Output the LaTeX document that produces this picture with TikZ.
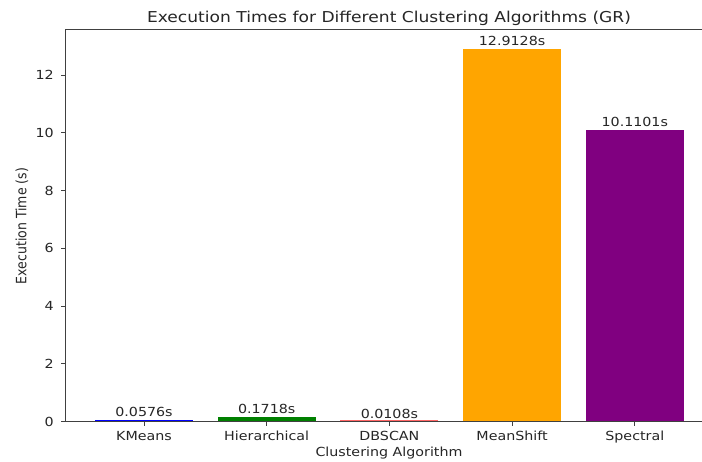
\documentclass[tikz,border=0pt]{standalone}
\usepackage{graphicx}
\usepackage{fontspec}
\setmainfont{DejaVu Sans}
\definecolor{spine}{HTML}{404040}
\definecolor{ink}{HTML}{262626}
\definecolor{kblue}{RGB}{0,0,255}
\definecolor{kgreen}{RGB}{0,128,0}
\definecolor{kred}{RGB}{255,0,0}
\definecolor{korange}{RGB}{255,165,0}
\definecolor{kpurple}{RGB}{128,0,128}
% text is drawn a little wider than tall
\newcommand\wide[1]{\scalebox{1.14}[1]{#1}}
\newcommand\ticksize{\fontsize{12.5}{15}\selectfont}
\tikzset{
  axisline/.style={draw=spine, line width=1pt},
  tickmark/.style={draw=spine, line width=0.9pt},
  ticklabel/.style={inner sep=0pt, text=ink, font=\ticksize},
  barlabel/.style={inner sep=0pt, anchor=base, text=ink, font=\ticksize},
  bar/.style={draw=none},
}
\begin{document}
\begin{tikzpicture}
\clip (0,0) rectangle (702pt,461pt);
\fill[white] (0,0) rectangle (702pt,461pt);

% title
\node[inner sep=0pt, anchor=base, text=ink, font=\fontsize{15}{18}\selectfont]
  (title) at (389pt,438.3pt) {\wide{Execution Times for Different Clustering Algorithms (GR)}};

% y axis label
\node[inner sep=0pt, rotate=90, text=ink, font=\ticksize]
  (ylabel) at (22pt,235pt) {\scalebox{1}[1.14]{Execution Time (s)}};

% x axis label
\node[inner sep=0pt, anchor=base, text=ink, font=\ticksize]
  (xlabel) at (389pt,5pt) {\wide{Clustering Algorithm}};

\begin{scope}[shift={(144pt,39.5pt)}, x=122.7pt, y=28.875pt]
  % bars
  \fill[bar, kblue]   (-0.4,0) rectangle (0.4,0.0576);
  \fill[bar, kgreen]  (0.6,0) rectangle (1.4,0.1718);
  \fill[bar, kred!60] (1.6,0) rectangle (2.4,0.035);
  \fill[bar, korange] (2.6,0) rectangle (3.4,12.9128);
  \fill[bar, kpurple] (3.6,0) rectangle (4.4,10.1101);

  % bar value labels
  \node[barlabel] (v0) at (0,0.0576+0.104) {\wide{0.0576s}};
  \node[barlabel] (v1) at (1,0.1718+0.104) {\wide{0.1718s}};
  \node[barlabel] (v2) at (2,0.0108+0.104) {\wide{0.0108s}};
  \node[barlabel] (v3) at (3,12.9128+0.104) {\wide{12.9128s}};
  \node[barlabel] (v4) at (4,10.1101+0.104) {\wide{10.1101s}};

  % spines
  \coordinate (bl) at (-0.64,0);
  \coordinate (br) at (4.64,0);
  \coordinate (tl) at (-0.64,13.59);
  \coordinate (tr) at (4.64,13.59);
  \draw[axisline] (tl) -- (bl) -- (br);
  \draw[axisline] (tl) -- (tr);

  % y ticks
  \foreach \v in {0,2,4,6,8,10,12} {
    \draw[tickmark] (-0.64,\v) -- ++(-4pt,0);
    \node[ticklabel, anchor=east] (yt\v) at ([xshift=-11.5pt]-0.64,\v) {\wide{\v}};
  }

  % x ticks
  \foreach \i/\name in {0/KMeans,1/Hierarchical,2/DBSCAN,3/MeanShift,4/Spectral} {
    \draw[tickmark] (\i,0) -- ++(0,-4pt);
    \node[ticklabel, anchor=base] (xt\i) at ([yshift=-18.5pt]\i,0) {\wide{\name}};
  }
\end{scope}
\end{tikzpicture}
\end{document}
